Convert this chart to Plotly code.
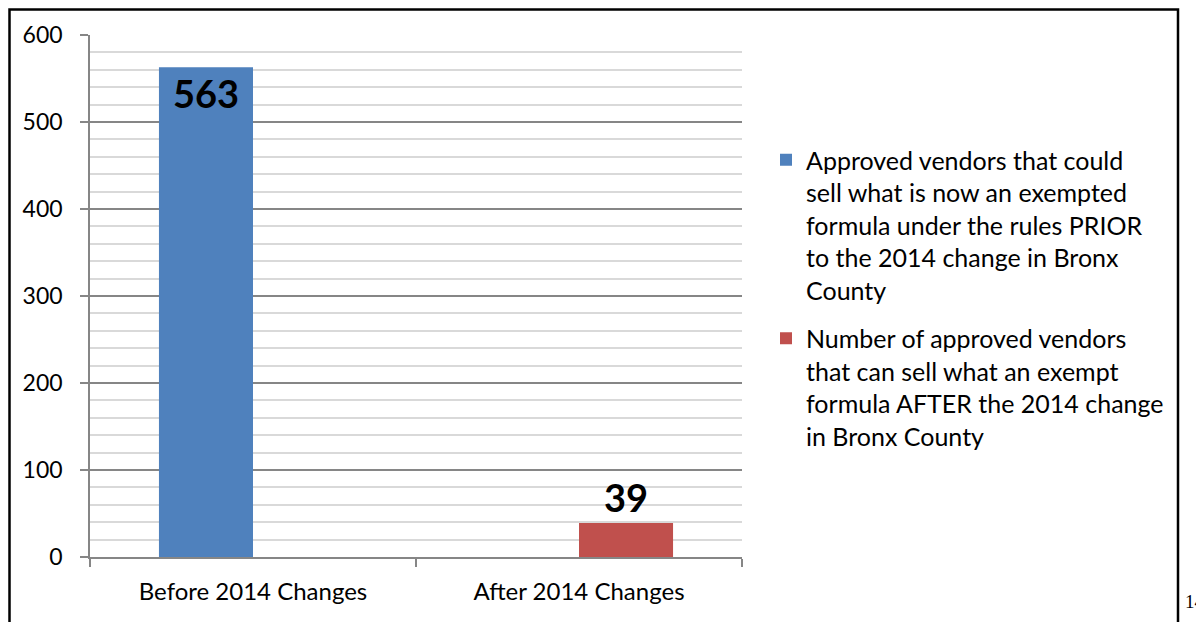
import plotly.graph_objects as go

categories = ["Before 2014 Changes", "After 2014 Changes"]
series_names = [
    "Approved vendors that could<br>sell what is now an exempted<br>formula under the rules PRIOR<br>to the 2014 change in Bronx<br>County",
    "Number of approved vendors<br>that can sell what an exempt<br>formula AFTER the 2014 change<br>in Bronx County",
]
before_values = [563, None]
after_values = [None, 39]
colors = ["#4F81BD", "#C0504D"]
y_ticks = [0, 100, 200, 300, 400, 500, 600]
page_number = "14"

FONT = "Lato"

fig = go.Figure()
fig.add_trace(go.Bar(
    x=categories, y=before_values, name=series_names[0], legendgroup="g1",
    marker=dict(color=colors[0], line=dict(width=0)),
    texttemplate="<b>%{y}</b>", textposition="inside", insidetextanchor="end",
    textfont=dict(family=FONT, size=38, color="black"), constraintext="none",
))
fig.add_trace(go.Bar(
    x=categories, y=after_values, name=series_names[1], legendgroup="g2",
    marker=dict(color=colors[1], line=dict(width=0)),
    texttemplate="<b>%{y}</b>", textposition="outside",
    textfont=dict(family=FONT, size=38, color="black"), constraintext="none",
    cliponaxis=False,
))

fig.update_layout(
    width=1204, height=622,
    margin=dict(l=82, r=470, t=27, b=73, autoexpand=False),
    paper_bgcolor="white", plot_bgcolor="white",
    barmode="group", bargap=0.423, bargroupgap=0,
    font=dict(family=FONT, size=24, color="black"),
    showlegend=True,
    legend=dict(
        xref="container", yref="container", x=758 / 1204, y=1 - 129 / 622,
        xanchor="left", yanchor="top", valign="top",
        font=dict(family=FONT, size=25, color="black"),
        tracegroupgap=13, bgcolor="rgba(0,0,0,0)", maxheight=600,
    ),
    xaxis=dict(
        showline=True, linecolor="#868686", linewidth=1.5,
        ticks="outside", ticklen=8, tickcolor="#868686", tickwidth=1.5,
        tickson="boundaries", showgrid=False, ticklabelstandoff=12, automargin=False,
        tickfont=dict(family=FONT, size=24),
    ),
    yaxis=dict(
        range=[0, 600], tickvals=y_ticks, showline=True, linecolor="#868686", linewidth=1.5,
        ticks="outside", ticklen=8, tickcolor="#868686", tickwidth=1.5,
        showgrid=True, gridcolor="#868686", gridwidth=1.5, zeroline=False,
        minor=dict(dtick=20, showgrid=True, gridcolor="#d9d9d9", gridwidth=1.5),
        ticklabelstandoff=13, automargin=False,
        tickfont=dict(family=FONT, size=23),
    ),
)

# outer frame
fig.add_shape(type="rect", xref="paper", yref="paper",
              x0=(1.5 - 82) / 652, x1=(1170 - 82) / 652,
              y0=(549 - 640) / 522, y1=(549 - 1.5) / 522,
              line=dict(color="black", width=2.5), fillcolor="rgba(0,0,0,0)", layer="above")

fig.add_annotation(text=page_number, xref="paper", yref="paper",
                   x=(1175 - 82) / 652, y=(549 - 606) / 522, xanchor="left", yanchor="bottom",
                   showarrow=False, font=dict(family="Liberation Serif", size=19, color="black"))

fig.write_html("out.html")
